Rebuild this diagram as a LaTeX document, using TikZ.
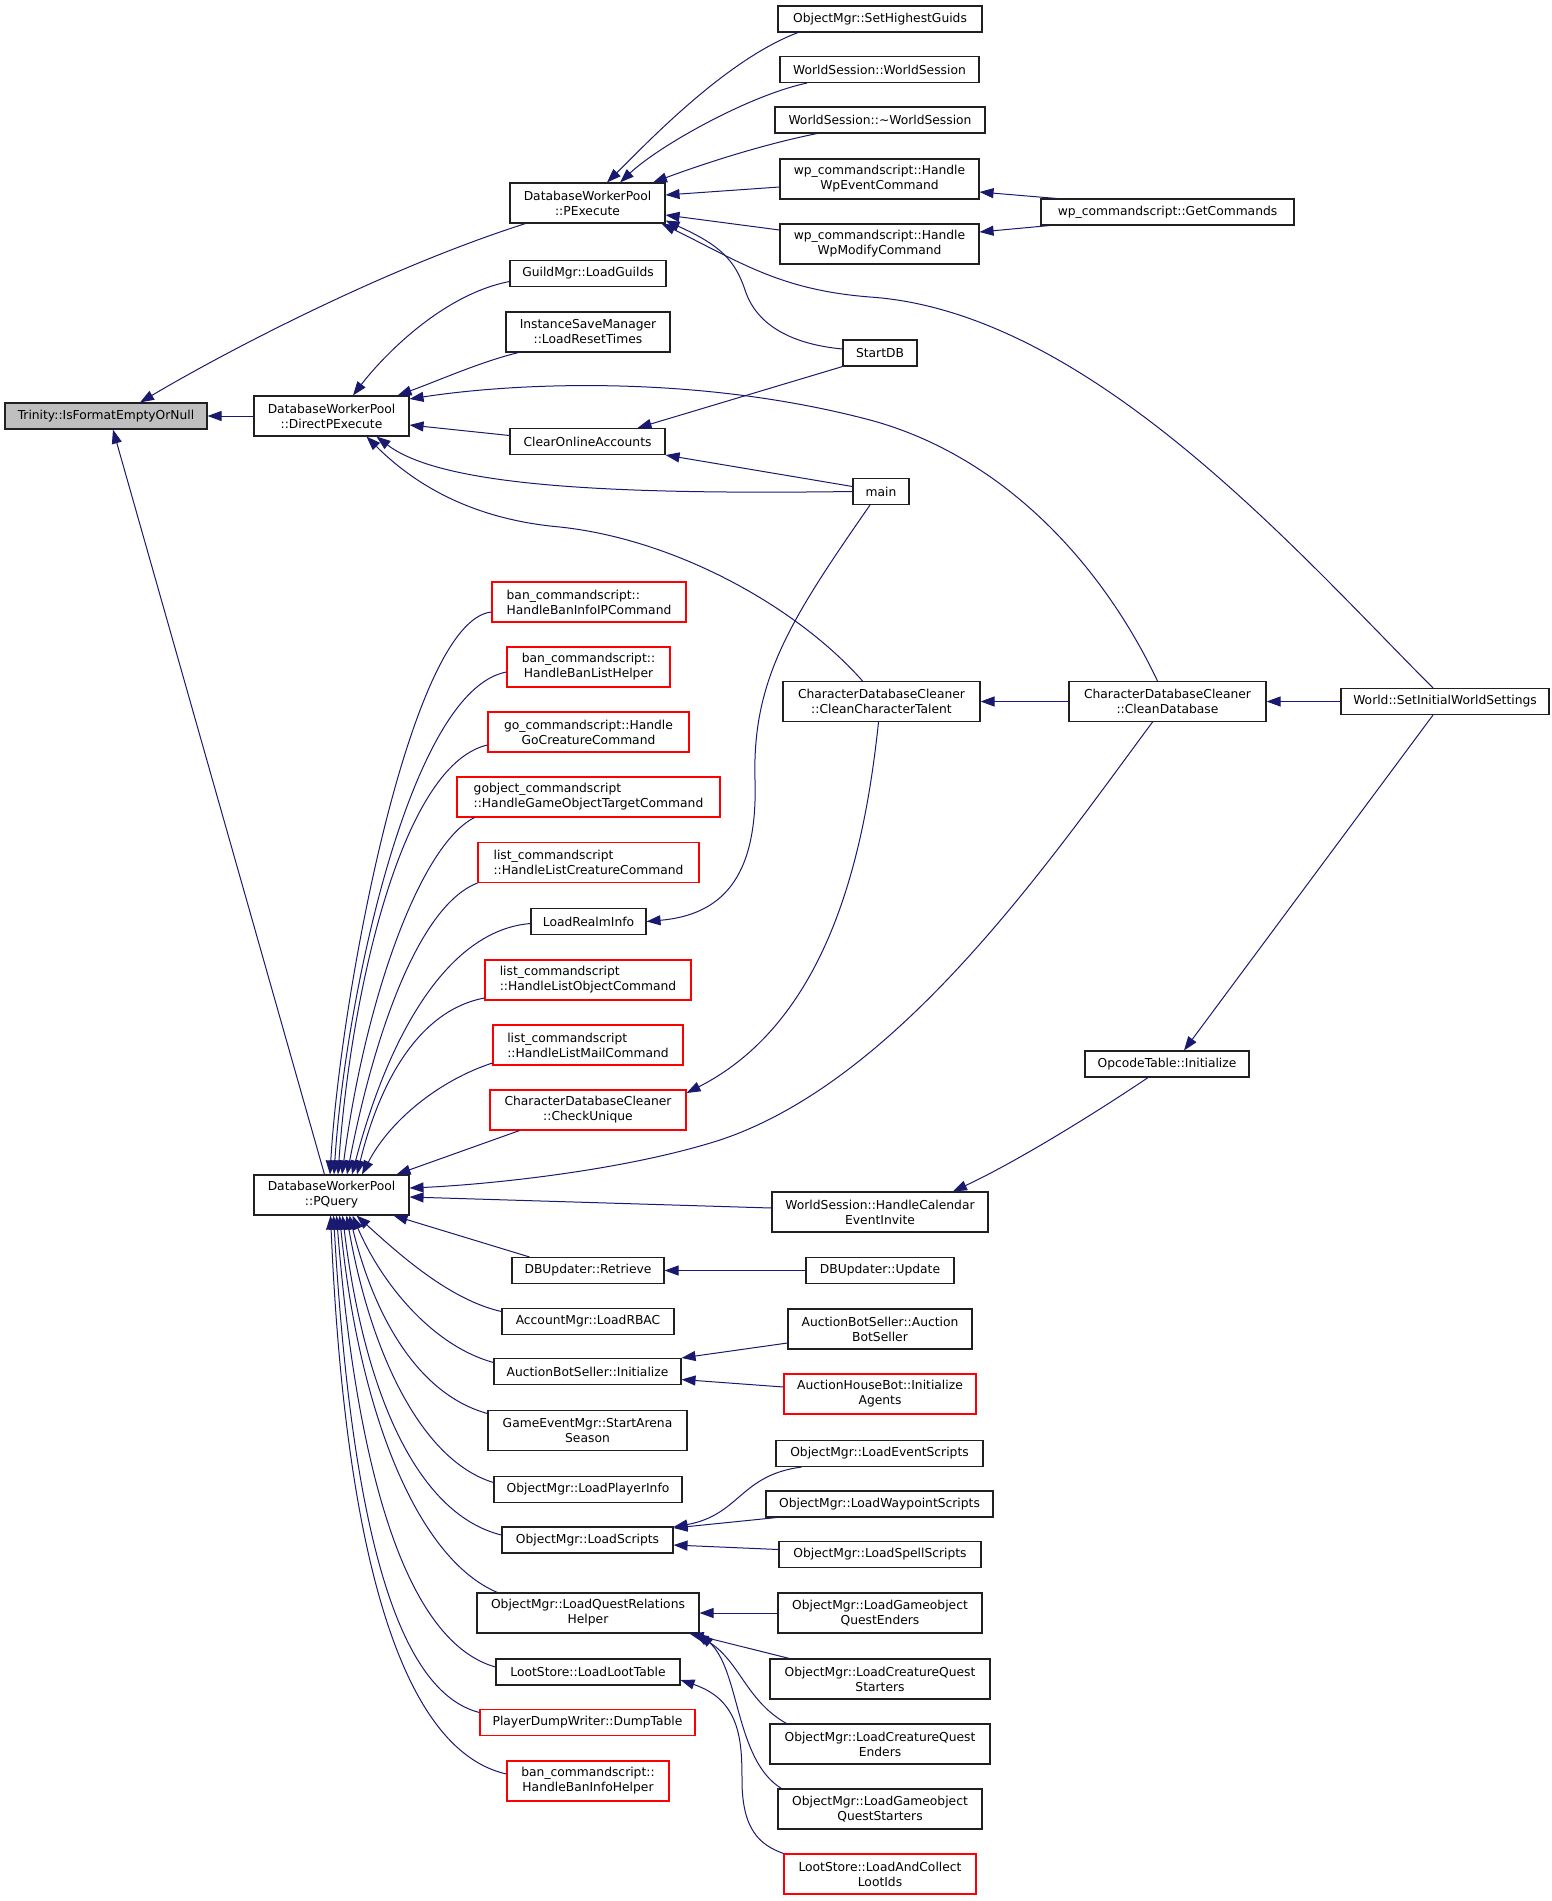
\documentclass[tikz,border=0pt]{standalone}
\usepackage{fontspec}
\setmainfont{DejaVu Sans}
\usetikzlibrary{arrows.meta}
\definecolor{edgecol}{HTML}{191970}
\definecolor{redb}{HTML}{FF0000}
\definecolor{fillgrey}{HTML}{BFBFBF}
\definecolor{boxline}{HTML}{202020}
\tikzset{
  fn/.style={font=\fontsize{12.3}{15}\selectfont},
  bx/.style={draw=boxline, line width=1.1pt, fill=white, inner sep=0pt, align=center, fn},
  rbx/.style={bx, draw=redb},
  sa/.style={minimum height=26pt},
  sb/.style={minimum height=40pt},
  lnk/.style={draw=edgecol, line width=1pt, {Triangle[length=14pt,width=10pt]}-},
}
\begin{document}
\begin{tikzpicture}[x=1pt,y=-1pt]
\useasboundingbox (0,0) rectangle (1552,1901);
% rank 0
\node[bx,sa,minimum width=202pt,fill=fillgrey] (tri) at (106,416) {Trinity::IsFormatEmptyOrNull};
% rank 1
\node[bx,sb,minimum width=155pt] (dpe) at (331.5,416) {DatabaseWorkerPool\\::DirectPExecute};
\node[bx,sb,minimum width=155pt] (pq) at (331.5,1195) {DatabaseWorkerPool\\::PQuery};
% rank 2
\node[bx,sb,minimum width=155pt] (pex) at (587.5,203) {DatabaseWorkerPool\\::PExecute};
\node[bx,sa,minimum width=156pt] (guild) at (588,273.5) {GuildMgr::LoadGuilds};
\node[bx,sb,minimum width=164pt] (inst) at (588,332) {InstanceSaveManager\\::LoadResetTimes};
\node[bx,sa,minimum width=155pt] (clear) at (587.5,441.5) {ClearOnlineAccounts};
\node[rbx,sb,minimum width=194pt,align=left] (banip) at (589,602) {ban\_commandscript::\\HandleBanInfoIPCommand};
\node[rbx,sb,minimum width=163pt] (banlist) at (588.5,667) {ban\_commandscript::\\HandleBanListHelper};
\node[rbx,sb,minimum width=201pt] (gocre) at (588.5,732) {go\_commandscript::Handle\\GoCreatureCommand};
\node[rbx,sb,minimum width=263pt,align=left] (gobj) at (588.5,797) {gobject\_commandscript\\::HandleGameObjectTargetCommand};
\node[rbx,sb,minimum width=221pt,align=left] (lcre) at (588.5,862.5) {list\_commandscript\\::HandleListCreatureCommand};
\node[bx,sa,minimum width=115pt] (realm) at (588.5,921.5) {LoadRealmInfo};
\node[rbx,sb,minimum width=206pt,align=left] (listobj) at (588,980) {list\_commandscript\\::HandleListObjectCommand};
\node[rbx,sb,minimum width=190pt,align=left] (listmail) at (588,1045) {list\_commandscript\\::HandleListMailCommand};
\node[rbx,sb,minimum width=196pt] (chkuniq) at (588,1110) {CharacterDatabaseCleaner\\::CheckUnique};
\node[bx,sa,minimum width=152pt] (retr) at (588,1270.5) {DBUpdater::Retrieve};
\node[bx,sa,minimum width=172pt] (rbac) at (588,1321.5) {AccountMgr::LoadRBAC};
\node[bx,sa,minimum width=187pt] (absinit) at (587.5,1371.5) {AuctionBotSeller::Initialize};
\node[bx,sb,minimum width=199pt] (arena) at (587.5,1430.5) {GameEventMgr::StartArena\\Season};
\node[bx,sa,minimum width=188pt] (pinfo) at (588,1489.5) {ObjectMgr::LoadPlayerInfo};
\node[bx,sa,minimum width=171pt] (lscripts) at (587.5,1540) {ObjectMgr::LoadScripts};
\node[bx,sb,minimum width=222pt] (qrh) at (588,1613) {ObjectMgr::LoadQuestRelations\\Helper};
\node[bx,sa,minimum width=184pt] (loot) at (588,1672) {LootStore::LoadLootTable};
\node[rbx,sa,minimum width=215pt] (dump) at (587.5,1722.5) {PlayerDumpWriter::DumpTable};
\node[rbx,sb,minimum width=162pt] (baninfo) at (588,1781) {ban\_commandscript::\\HandleBanInfoHelper};
% rank 3
\node[bx,sa,minimum width=204pt] (shg) at (880,19) {ObjectMgr::SetHighestGuids};
\node[bx,sa,minimum width=199pt] (wsc) at (879.5,69.5) {WorldSession::WorldSession};
\node[bx,sa,minimum width=210pt] (wsd) at (880,120) {WorldSession::{\char"7E}WorldSession};
\node[bx,sb,minimum width=199pt] (wpev) at (879.5,179) {wp\_commandscript::Handle\\WpEventCommand};
\node[bx,sb,minimum width=199pt] (wpmod) at (879.5,244) {wp\_commandscript::Handle\\WpModifyCommand};
\node[bx,sa,minimum width=74pt] (startdb) at (880,353) {StartDB};
\node[bx,sa,minimum width=56pt] (main) at (881,491.5) {main};
\node[bx,sb,minimum width=197pt] (cct) at (881.5,701.5) {CharacterDatabaseCleaner\\::CleanCharacterTalent};
\node[bx,sb,minimum width=216pt] (cal) at (880,1212) {WorldSession::HandleCalendar\\EventInvite};
\node[bx,sa,minimum width=148pt] (dbupd) at (880,1270.5) {DBUpdater::Update};
\node[bx,sb,minimum width=184pt] (absctor) at (880,1329) {AuctionBotSeller::Auction\\BotSeller};
\node[rbx,sb,minimum width=192pt] (ahb) at (880,1394) {AuctionHouseBot::Initialize\\Agents};
\node[bx,sa,minimum width=207pt] (evs) at (879.5,1453.5) {ObjectMgr::LoadEventScripts};
\node[bx,sa,minimum width=227pt] (wps) at (879.5,1504) {ObjectMgr::LoadWaypointScripts};
\node[bx,sa,minimum width=202pt] (sps) at (880,1554.5) {ObjectMgr::LoadSpellScripts};
\node[bx,sb,minimum width=204pt] (gqe) at (880,1613) {ObjectMgr::LoadGameobject\\QuestEnders};
\node[bx,sb,minimum width=220pt] (cqs) at (880,1679) {ObjectMgr::LoadCreatureQuest\\Starters};
\node[bx,sb,minimum width=220pt] (cqe) at (880,1744) {ObjectMgr::LoadCreatureQuest\\Enders};
\node[bx,sb,minimum width=204pt] (gqs) at (880,1809) {ObjectMgr::LoadGameobject\\QuestStarters};
\node[rbx,sb,minimum width=192pt] (lacl) at (880,1874) {LootStore::LoadAndCollect\\LootIds};
% rank 4
\node[bx,sa,minimum width=253pt] (getcmd) at (1167.5,212) {wp\_commandscript::GetCommands};
\node[bx,sb,minimum width=197pt] (cdb) at (1167.5,701.5) {CharacterDatabaseCleaner\\::CleanDatabase};
\node[bx,sa,minimum width=164pt] (opc) at (1167,1064) {OpcodeTable::Initialize};
% rank 5
\node[bx,sa,minimum width=208pt] (world) at (1445,701.5) {World::SetInitialWorldSettings};

% ---- edges into Trinity
\draw[lnk] ([xshift=34pt]tri.north) .. controls (220,355) and (380,270) .. ([xshift=-62pt]pex.south);
\draw[lnk] (tri.east) -- (dpe.west);
\draw[lnk] ([xshift=7pt]tri.south) -- ([xshift=-7pt]pq.north);
% ---- edges into PExecute
\draw[lnk] ([xshift=19.5pt]pex.north) .. controls (645,145) and (725,60) .. ([xshift=-82pt]shg.south);
\draw[lnk] ([xshift=32.5pt]pex.north) .. controls (660,145) and (750,95) .. ([xshift=-72.5pt]wsc.south);
\draw[lnk] ([xshift=65.5pt]pex.north) .. controls (700,165) and (760,145) .. ([xshift=-63pt]wsd.south);
\draw[lnk] ([yshift=8pt]pex.east) -- ([yshift=-8pt]wpev.west);
\draw[lnk] ([yshift=-12pt]pex.east) -- ([yshift=14pt]wpmod.west);
\draw[lnk] ([yshift=3pt]pex.south east) .. controls (720,245) and (735,260) .. (745,290) .. controls (758,330) and (800,345) .. ([yshift=4pt]startdb.west);
\draw[lnk] ([xshift=-4pt]pex.south east) .. controls (740,262) and (780,290) .. (870,297) .. controls (1090,312) and (1300,555) .. ([xshift=-12pt]world.north);
% ---- GetCommands
\draw[lnk] ([yshift=-13pt]wpev.east) -- ([xshift=16pt]getcmd.north west);
\draw[lnk] ([yshift=12pt]wpmod.east) -- ([xshift=9pt]getcmd.south west);
% ---- edges into DirectPExecute
\draw[lnk] ([xshift=21.5pt]dpe.north) .. controls (380,360) and (440,295) .. ([yshift=-8pt]guild.west);
\draw[lnk] ([xshift=-12pt]dpe.north east) .. controls (440,380) and (480,362) .. ([xshift=13pt]inst.south west);
\draw[lnk] ([yshift=17pt]dpe.east) .. controls (520,382) and (700,375) .. (870,420) .. controls (1000,455) and (1100,560) .. ([xshift=-10pt]cdb.north);
\draw[lnk] ([yshift=-9pt]dpe.east) -- ([yshift=6pt]clear.west);
\draw[lnk] ([xshift=45pt]dpe.south) .. controls (440,485) and (600,495) .. (main.west);
\draw[lnk] ([xshift=35pt]dpe.south) .. controls (420,490) and (480,520) .. (560,527) .. controls (680,540) and (800,610) .. ([xshift=-19pt]cct.north);
% ---- ClearOnlineAccounts
\draw[lnk] ([xshift=50pt]clear.north) -- (startdb.south west);
\draw[lnk] (clear.south east) -- ([yshift=5pt]main.west);
% ---- cleaners / world
\draw[lnk] (cct.east) -- (cdb.west);
\draw[lnk] (cdb.east) -- (world.west);
\draw[lnk] ([xshift=17pt]opc.north) -- ([xshift=-12pt]world.south);
\draw[lnk] ([xshift=73pt]cal.north) .. controls (1020,1160) and (1100,1110) .. ([xshift=-19pt]opc.south);
\draw[lnk] (realm.east) .. controls (720,915) and (758,880) .. (755,780) .. controls (752,680) and (790,620) .. ([xshift=-11pt]main.south);
\draw[lnk] ([yshift=17pt]chkuniq.east) .. controls (830,1020) and (865,850) .. ([xshift=-3pt]cct.south);
% ---- edges into PQuery (right side)
\draw[lnk] ([yshift=7pt]pq.east) .. controls (480,1185) and (620,1172) .. (720,1140) .. controls (900,1080) and (1050,860) .. ([xshift=-15pt]cdb.south);
\draw[lnk] ([yshift=-2pt]pq.east) -- ([yshift=4pt]cal.west);
% ---- edges into PQuery (top)
\draw[lnk] ([xshift=-1.5pt]pq.north) .. controls (340,1000) and (410,620) .. ([yshift=-10pt]banip.west);
\draw[lnk] ([xshift=2.5pt]pq.north) .. controls (345,1000) and (410,690) .. ([yshift=-5pt]banlist.west);
\draw[lnk] ([xshift=6.5pt]pq.north) .. controls (350,1000) and (400,765) .. ([yshift=-13pt]gocre.west);
\draw[lnk] ([xshift=10.5pt]pq.north) .. controls (365,1000) and (420,845) .. ([xshift=18pt]gobj.south west);
\draw[lnk] ([xshift=15.5pt]pq.north) .. controls (375,1030) and (420,905) .. (lcre.south west);
\draw[lnk] ([xshift=20.5pt]pq.north) .. controls (390,1030) and (450,930) .. ([yshift=-2pt]realm.west);
\draw[lnk] ([xshift=25.5pt]pq.north) .. controls (380,1080) and (420,1010) .. ([yshift=-18pt]listobj.west);
\draw[lnk] ([xshift=30.5pt]pq.north) .. controls (390,1120) and (440,1080) .. ([yshift=-18pt]listmail.west);
\draw[lnk] ([xshift=65pt]pq.north) -- ([xshift=30pt]chkuniq.south west);
% ---- edges into PQuery (bottom)
\draw[lnk] ([xshift=62pt]pq.south) -- ([xshift=18pt]retr.north west);
\draw[lnk] ([xshift=25pt]pq.south) .. controls (400,1255) and (450,1300) .. ([yshift=10pt]rbac.west);
\draw[lnk] ([xshift=21pt]pq.south) .. controls (380,1280) and (430,1345) .. ([yshift=9pt]absinit.west);
\draw[lnk] ([xshift=18pt]pq.south) .. controls (375,1320) and (420,1395) .. ([yshift=17pt]arena.west);
\draw[lnk] ([xshift=15pt]pq.south) .. controls (370,1350) and (420,1460) .. ([yshift=7pt]pinfo.west);
\draw[lnk] ([xshift=11pt]pq.south) .. controls (365,1400) and (420,1515) .. ([yshift=5pt]lscripts.west);
\draw[lnk] ([xshift=8pt]pq.south) .. controls (360,1420) and (420,1560) .. ([xshift=21pt]qrh.north west);
\draw[lnk] ([xshift=5pt]pq.south) .. controls (355,1450) and (400,1640) .. ([yshift=5pt]loot.west);
\draw[lnk] ([xshift=2pt]pq.south) .. controls (350,1500) and (390,1690) .. ([yshift=10pt]dump.west);
\draw[lnk] ([xshift=-1pt]pq.south) .. controls (345,1550) and (400,1750) .. ([yshift=7pt]baninfo.west);
% ---- rank 2 <- rank 3 lower
\draw[lnk] (retr.east) -- (dbupd.west);
\draw[lnk] (absinit.north east) -- ([yshift=-14pt]absctor.west);
\draw[lnk] ([yshift=-8pt]absinit.east) -- ([yshift=7pt]ahb.west);
\draw[lnk] ([yshift=13pt]lscripts.east) .. controls (740,1515) and (740,1475) .. ([xshift=26pt]evs.south west);
\draw[lnk] ([yshift=12pt]lscripts.east) -- ([xshift=11pt]wps.south west);
\draw[lnk] ([yshift=-5pt]lscripts.east) -- ([yshift=5pt]sps.west);
\draw[lnk] (qrh.east) -- (gqe.west);
\draw[lnk] ([xshift=-10pt]qrh.south east) -- ([xshift=20pt]cqs.north west);
\draw[lnk] ([xshift=-5pt]qrh.south east) .. controls (740,1660) and (745,1700) .. ([xshift=17pt]cqe.north west);
\draw[lnk] (qrh.south east) .. controls (740,1670) and (735,1760) .. ([xshift=4pt]gqs.north west);
\draw[lnk] ([yshift=-8pt]loot.east) .. controls (740,1700) and (742,1740) .. (742,1780) .. controls (742,1830) and (760,1845) .. (lacl.north west);
\end{tikzpicture}
\end{document}
